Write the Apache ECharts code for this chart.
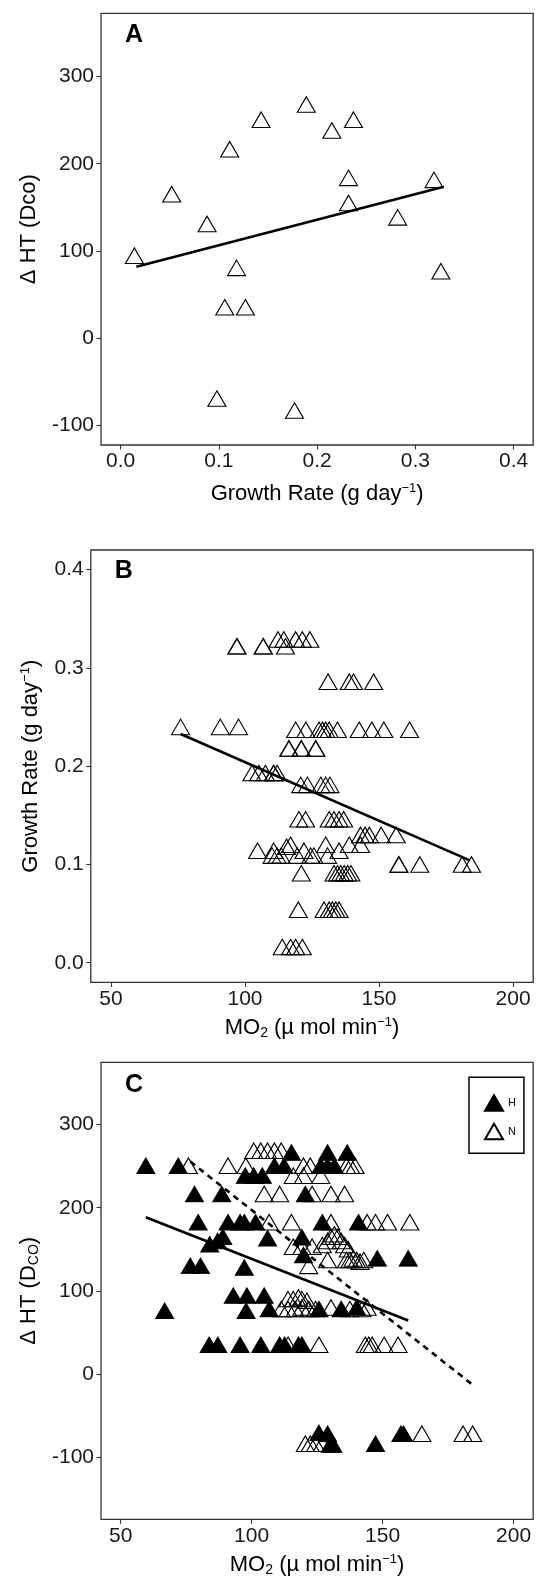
<!DOCTYPE html>
<html><head><meta charset="utf-8">
<script src="https://cdn.jsdelivr.net/npm/echarts@6/dist/echarts.min.js"></script>
<style>html,body{margin:0;padding:0;background:#fff}#c{width:537px;height:1581px}</style>
</head><body><div id="c"></div>
<script>
// ---------- Panel A: Growth rate vs ΔHT ----------
const growthA = [0.014,0.052,0.088,0.111,0.118,0.143,0.189,0.215,0.237,0.232,0.232,0.282,0.319,0.326,0.106,0.127,0.098,0.177];
const dhtA    = [94.5,165,131,216.6,80.6,250.5,268,238,250.5,183.8,155,138.5,181.5,76.8,35.4,35.4,-69.3,-83];
const fitAX = [0.016, 0.329];
const fitAY = [82, 173.5];
const ticksAX = [0.0,0.1,0.2,0.3,0.4];
const ticksAY = [-100,0,100,200,300];

// ---------- Panel B: MO2 vs growth rate ----------
const mo2B = [97.0,97.0,106.8,106.8,115.1, 112.3,114.5,118.9,121.4,124.2, 131.0,138.9,140.5,148.0, 76.0,90.8,97.6,
  118.9,122.7,127.6,128.9,130.1,131.4,134.5,142.6,147.3,151.8,161.4, 116.4,116.4,121.0,121.0,126.4,126.4,
  102.6,105.1,107.6,110.7,110.7,112.0, 120.8,123.3,128.3,130.1,131.7, 120.1,122.6,131.4,133.2,135.1,136.8,
  143.1,144.8,146.4,150.8,156.4, 117.0,130.1,138.9,143.1, 104.7,110.7,122.0,135.1,
  110.1,112.0,113.5,119.5,124.5,125.7,130.8, 115.5, 157.4,157.4,165.2,181.0,184.5,
  121.0,133.2,134.5,135.7,137.0,138.3,139.5, 119.9,129.5,131.4,132.6,133.9,135.1, 113.9,117.0,118.9,121.4];
const growthB = [0.322,0.322,0.322,0.322,0.322, 0.329,0.329,0.329,0.329,0.329, 0.286,0.286,0.286,0.286, 0.240,0.240,0.240,
  0.237,0.237,0.237,0.237,0.237,0.237,0.237,0.237,0.237,0.237,0.237, 0.218,0.218,0.218,0.218,0.218,0.218,
  0.193,0.193,0.193,0.193,0.193,0.193, 0.181,0.181,0.181,0.181,0.181, 0.146,0.146,0.146,0.146,0.146,0.146,
  0.130,0.130,0.130,0.130,0.130, 0.120,0.120,0.120,0.120, 0.114,0.114,0.114,0.114,
  0.109,0.109,0.109,0.109,0.109,0.109,0.109, 0.118, 0.100,0.100,0.100,0.100,0.100,
  0.091,0.091,0.091,0.091,0.091,0.091,0.091, 0.054,0.054,0.054,0.054,0.054,0.054, 0.016,0.016,0.016,0.016];
const fitBX = [76.0, 183.6];
const fitBY = [0.2327, 0.1044];
const ticksBX = [50,100,150,200];
const ticksBY = [0.0,0.1,0.2,0.3,0.4];

// ---------- Panel C: MO2 vs ΔHT by group ----------
const mo2H = [59.6,72.0,108.7,112.4,126.4,129.0,131.6, 115.2,129.0,136.5, 97.6,100.8,104.1, 78.2,88.6,120.5,
  79.6,91.0,95.6,97.2,101.5,127.0,140.8, 84,87,89,106.1,119.2, 148.0,159.8,119.8, 76.6,80.5,97.2,
  93.0,98.2,104.8, 66.8,97.9,106.7,125.7,134.2,140.1, 83.8,87.1,95.6,103.5,110.7,112.6,117.9,119.2,
  125.7,129,130,131,147.3,157,158];
const dhtH = [250.6,250.6,250.6,250.6,250.6,250.6,250.6, 266.5,266.5,266.5, 238.6,238.6,238.6, 216.6,216.6,216.6,
  182.5,182.5,182.5,182.5,182.5,182.5,182.5, 156,160,165,163.3,164.3, 139,139,143, 130,130,128,
  94.2,94.2,94.2, 76,76,78,78,78,80, 35,35,35,35,35,35,35,35,
  -71,-72,-85,-85,-84,-72,-72];
const mo2N = [75.9,91.0,97.8,119.8,122.4,136.2,137.8,139.5, 100.8,103.5,106.1,108.7,111.3, 115.9,119.8,126.4,
  104.8,110.7,123.1,130.3,135.5, 106.7,115.2,130.3,144.1,147.3,151.9,160.4,
  115.9,119.2,123.1,127,129,130.3,131.6,132.9,134.2,135.5,136.9, 129,121.8,136.2,137.5,138.8,140.1,141.4,142.8,
  113.9,115.9,117.9,119.2,121.1, 111.3,113.9,116.6,119.2,121.8,124.4,130.3,137.5,142.1,144.1,
  113.9,125.7,143.4,144.7,146.0,150.6,155.9, 120.5,122.4,124.4,127.0,165.0,180.7,184.4];
const dhtN = [250.6,250.6,250.6,250.6,250.6,250.6,250.6,250.6, 268.6,268.6,268.6,268.6,268.6, 238.6,238.6,238.6,
  216.6,216.6,216.6,216.6,216.6, 182.5,182.5,182.5,182.5,182.5,182.5,182.5,
  153,153,153,155,160,165,168,165,160,155,150, 137,130,137,137,139,137,135,137,
  90,90,92,90,88, 78,78,78,80,78,78,80,78,78,80,
  35,35,35,35,35,35,35, -84,-84,-84,-84,-72,-72,-72];
const fitHX = [59.6, 159.8];
const fitHY = [188.6, 64.2];
const fitNX = [76.6, 184.4];
const fitNY = [255.5, -13.2];
const ticksCX = [50,100,150,200];
const ticksCY = [-100,0,100,200,300];
const groupNames = ['H','N'];

// ---------- build ----------
const zip = (a,b) => a.map((v,i)=>[v,b[i]]);
const FONT = '"Liberation Sans", Arial, Helvetica, sans-serif';
const tickStyle = vals => ({show:true, inside:false, length:4.5, lineStyle:{color:'#333', width:1.1}, customValues: vals});
const lab = (vals, margin, fmt) => ({customValues: vals, margin: margin, fontSize:21, color:'#1a1a1a', fontFamily: FONT, formatter: fmt});
const nameStyle = {fontSize:22, color:'#000', fontFamily: FONT, lineHeight:24,
  rich:{sup:{fontSize:13, fontFamily: FONT, verticalAlign:'top', lineHeight:12, color:'#000'},
        sub:{fontSize:14, fontFamily: FONT, verticalAlign:'bottom', lineHeight:14, color:'#000'}}};
const f1 = v => v.toFixed(1);
const f0 = v => String(v);
const base = {type:'value', axisLine:{show:false, onZero:false}, splitLine:{show:false}, nameLocation:'middle', nameTextStyle: nameStyle};

const hollow = {color:'rgba(255,255,255,0)', borderColor:'#000', borderWidth:1.1, opacity:1};
const solid = {color:'#000', borderColor:'#000', borderWidth:1, opacity:1};
const TRI = [18, 15.5];
const sc = (name, xi, data, style, z) => ({type:'scatter', name, xAxisIndex:xi, yAxisIndex:xi, data, symbol:'triangle',
  symbolSize:TRI, itemStyle:style, z:z||2, emphasis:{disabled:true}, silent:true});
const ln = (xi, xs, ys, dash) => ({type:'line', xAxisIndex:xi, yAxisIndex:xi, data: zip(xs,ys), symbol:'none',
  lineStyle:{color:'#000', width:2.6, type: dash ? [6,5] : 'solid'}, z:5, silent:true});

const R = 533.2;
const option = {
  animation:false,
  backgroundColor:'#fff',
  grid:[
    {left:101, top:13.3, width:R-101, height:431.7, show:true, borderColor:'#333', borderWidth:1.3, backgroundColor:'transparent'},
    {left:90.8, top:550, width:R-90.8, height:432.4, show:true, borderColor:'#333', borderWidth:1.3, backgroundColor:'transparent'},
    {left:101, top:1062.3, width:R-101, height:457, show:true, borderColor:'#333', borderWidth:1.3, backgroundColor:'transparent'}
  ],
  xAxis:[
    Object.assign({}, base, {gridIndex:0, min:-0.02, max:0.42, axisTick:tickStyle(ticksAX), axisLabel:lab(ticksAX,6,f1),
      name:'Growth Rate (g day{sup|−1})', nameGap:37}),
    Object.assign({}, base, {gridIndex:1, min:42.5, max:207.5, axisTick:tickStyle(ticksBX), axisLabel:lab(ticksBX,6,f0),
      name:'MO{sub|2} (µ mol min{sup|−1})', nameGap:34}),
    Object.assign({}, base, {gridIndex:2, min:42.5, max:207.5, axisTick:tickStyle(ticksCX), axisLabel:lab(ticksCX,6,f0),
      name:'MO{sub|2} (µ mol min{sup|−1})', nameGap:34})
  ],
  yAxis:[
    Object.assign({}, base, {gridIndex:0, min:-122.5, max:372.5, axisTick:tickStyle(ticksAY), axisLabel:lab(ticksAY,7,f0),
      name:'Δ HT (Dco)', nameGap:60, nameRotate:90}),
    Object.assign({}, base, {gridIndex:1, min:-0.02, max:0.42, axisTick:tickStyle(ticksBY), axisLabel:lab(ticksBY,7,f1),
      name:'Growth Rate (g day{sup|−1})', nameGap:48, nameRotate:90}),
    Object.assign({}, base, {gridIndex:2, min:-175, max:375, axisTick:tickStyle(ticksCY), axisLabel:lab(ticksCY,7,f0),
      name:'Δ HT (D{sub|CO})', nameGap:60, nameRotate:90})
  ],
  legend:{
    data:[{name:groupNames[0], icon:'triangle'},{name:groupNames[1], icon:'triangle'}],
    orient:'vertical', left:469, top:1077.3, itemWidth:18, itemHeight:15.5, itemGap:11,
    padding:[17,8,13,15], borderColor:'#000', borderWidth:1.5, selectedMode:false,
    textStyle:{fontSize:11, color:'#000', fontFamily: FONT}
  },
  graphic:[
    {type:'text', left:125, top:23, style:{text:'A', font:'bold 25px '+FONT, fill:'#000'}},
    {type:'text', left:114.7, top:559, style:{text:'B', font:'bold 25px '+FONT, fill:'#000'}},
    {type:'text', left:125, top:1073, style:{text:'C', font:'bold 25px '+FONT, fill:'#000'}}
  ],
  series:[
    sc('A', 0, zip(growthA, dhtA), hollow),
    ln(0, fitAX, fitAY, false),
    sc('B', 1, zip(mo2B, growthB), hollow),
    ln(1, fitBX, fitBY, false),
    sc(groupNames[1], 2, zip(mo2N, dhtN), hollow, 2),
    sc(groupNames[0], 2, zip(mo2H, dhtH), solid, 3),
    ln(2, fitHX, fitHY, false),
    ln(2, fitNX, fitNY, true)
  ]
};
const chart = echarts.init(document.getElementById('c'), null, {renderer:'canvas'});
chart.setOption(option);
</script></body></html>
